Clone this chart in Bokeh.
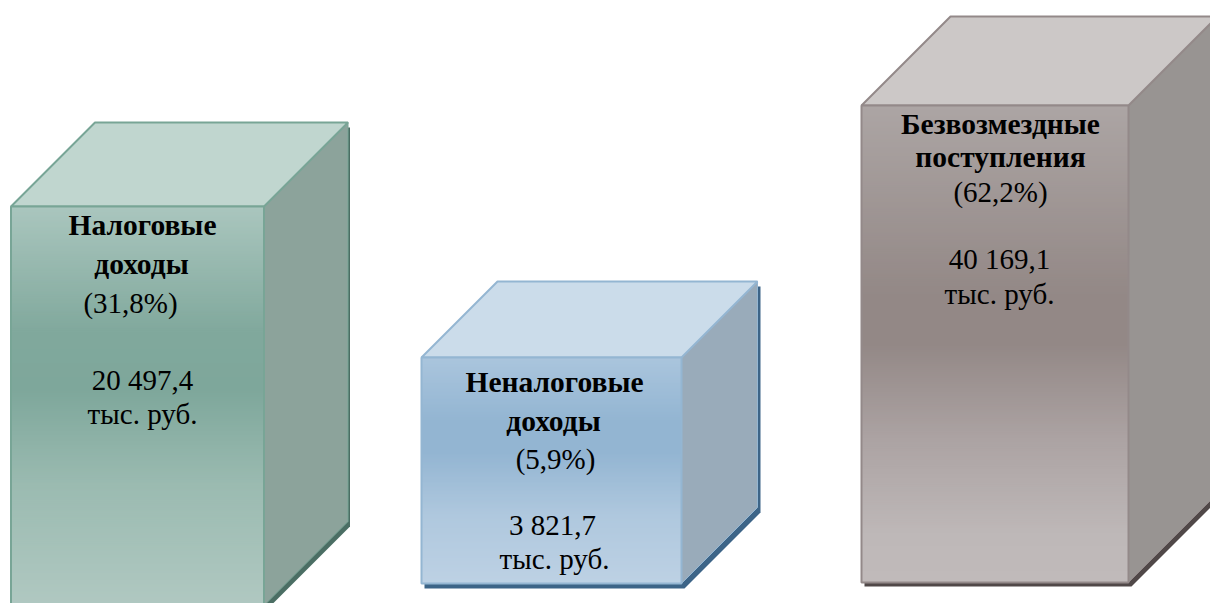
from bokeh.plotting import figure
from bokeh.models import Range1d
from bokeh.core.properties import value
from bokeh.embed import file_html
from bokeh.resources import INLINE

# Content
categories = ["Налоговые доходы", "Неналоговые доходы", "Безвозмездные поступления"]
title_lines = [["Налоговые", "доходы"], ["Неналоговые", "доходы"], ["Безвозмездные", "поступления"]]
shares = ["(31,8%)", "(5,9%)", "(62,2%)"]
amounts = ["20 497,4", "3 821,7", "40 169,1"]
unit = "тыс. руб."

# Box measures, in its pixel units
left_edges = [10.5, 421, 861]
top_edges = [206, 357, 105]
widths = [253, 260, 267]
heights = [399, 226, 477]
depths = [84, 76, 89]

# Text placement per box
text_centers = [[142, 141, 130, 142, 142], [554, 553, 555, 552, 554], [1000, 1000, 1000, 999, 999]]
text_rows = [[224, 263, 302, 379, 413], [381, 420, 458, 524, 558], [123, 156, 191, 258, 293]]

# Colours
top_colors = ["#c0d6cf", "#cbdcea", "#ccc8c7"]
side_colors = ["#8ca39b", "#99abba", "#989492"]
edge_colors = ["#78a596", "#94b6d2", "#938989"]
shadow_colors = ["#4b6e64", "#3c6487", "#504848"]
shadow_shift = [(2, 5), (3, 5), (3, 4)]
gradients = [
    [(0.0, (170, 198, 190)), (0.32, (128, 168, 156)), (0.46, (126, 167, 155)), (0.7, (155, 187, 177)), (1.0, (176, 200, 193))],
    [(0.0, (170, 197, 221)), (0.28, (147, 181, 210)), (0.42, (147, 181, 210)), (0.7, (175, 200, 222)), (1.0, (189, 209, 228))],
    [(0.0, (172, 165, 164)), (0.4, (147, 136, 134)), (0.5, (147, 136, 134)), (0.7, (172, 163, 163)), (0.9, (190, 184, 184)), (1.0, (192, 186, 186))],
]


def shade(stops, t):
    for (a, ca), (b, cb) in zip(stops, stops[1:]):
        if t <= b:
            f = (t - a) / (b - a)
            return "#%02x%02x%02x" % tuple(round(x + (y - x) * f) for x, y in zip(ca, cb))
    return "#%02x%02x%02x" % stops[-1][1]


p = figure(width=1210, height=603, output_backend="svg", toolbar_location=None,
           x_range=Range1d(0, 1210), y_range=Range1d(603, 0), min_border=0,
           outline_line_color=None, background_fill_color="white", border_fill_color="white")
p.axis.visible = False
p.grid.visible = False

SERIF = value("Liberation Serif")

for i in range(len(categories)):
    x0, y0, w, h, d = left_edges[i], top_edges[i], widths[i], heights[i], depths[i]
    x1, y1 = x0 + w, y0 + h
    sx, sy = shadow_shift[i]

    # shadow: the box silhouette, shifted
    p.patch([x + sx for x in (x0, x0 + d, x1 + d, x1 + d, x1, x0)],
            [y + sy for y in (y0, y0 - d, y0 - d, y1 - d, y1, y1)],
            fill_color=shadow_colors[i], line_color=None)
    # right face and top face
    p.patch([x1, x1 + d, x1 + d, x1], [y0, y0 - d, y1 - d, y1],
            fill_color=side_colors[i], line_color=edge_colors[i], line_width=1)
    p.patch([x0, x0 + d, x1 + d, x1], [y0, y0 - d, y0 - d, y0],
            fill_color=top_colors[i], line_color=edge_colors[i], line_width=2)

    # front face: vertical gradient in thin strips
    n = int(h / 2)
    tops = [y0 + h * k / n for k in range(n)]
    bottoms = [min(t + h / n + 1, y1) for t in tops]
    cols = [shade(gradients[i], (k + 0.5) / n) for k in range(n)]
    p.quad(left=[x0] * n, right=[x1] * n, top=tops, bottom=bottoms,
           fill_color=cols, line_color=None)
    p.quad(left=[x0], right=[x1], top=[y0], bottom=[y1],
           fill_color=None, line_color=edge_colors[i], line_width=2)

    # labels
    lines = title_lines[i] + [shares[i], amounts[i], unit]
    weights = ["bold", "bold", "normal", "normal", "normal"]
    for txt, cx, by, wt in zip(lines, text_centers[i], text_rows[i], weights):
        p.text([cx], [by], text=[txt], text_font=SERIF,
               text_font_size="29.5px" if wt == "bold" else "29px",
               text_font_style=wt, text_align="center", text_baseline="alphabetic",
               text_color="#000000")

open("out.html", "w").write(file_html(p, INLINE))
